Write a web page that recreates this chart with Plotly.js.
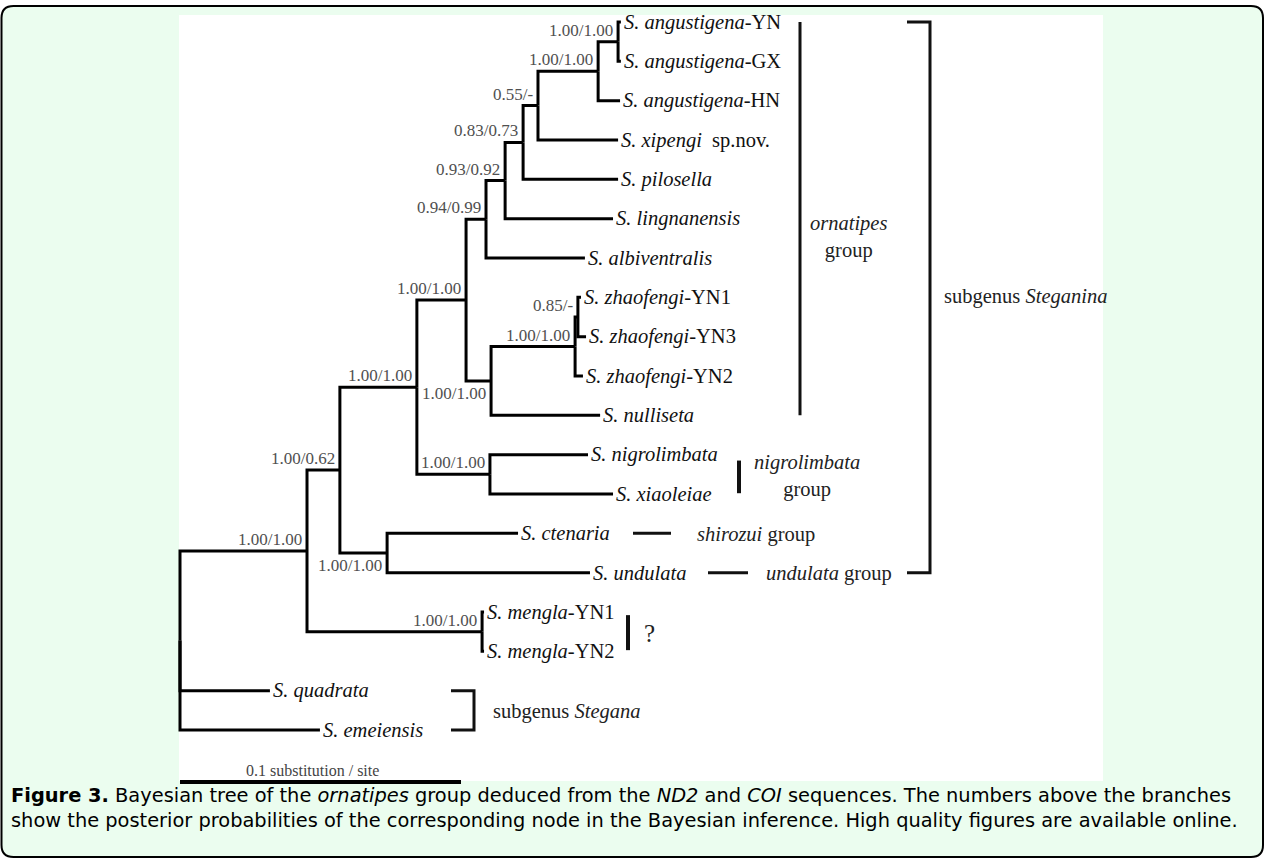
<!DOCTYPE html>
<html>
<head>
<meta charset="utf-8">
<script src="https://cdn.plot.ly/plotly-3.0.1.min.js"></script>
<style>
  html, body { margin: 0; padding: 0; background: #ffffff; }
  #chart { width: 1265px; height: 860px; }
</style>
</head>
<body>
<div id="chart"></div>
<script>
// ---------------- DATA ----------------
// Terminal taxa (top to bottom)
const leafLabels = [
  '<i>S. angustigena</i>-YN', '<i>S. angustigena</i>-GX', '<i>S. angustigena</i>-HN',
  '<i>S. xipengi</i>  sp.nov.', '<i>S. pilosella</i>', '<i>S. lingnanensis</i>',
  '<i>S. albiventralis</i>', '<i>S. zhaofengi</i>-YN1', '<i>S. zhaofengi</i>-YN3',
  '<i>S. zhaofengi</i>-YN2', '<i>S. nulliseta</i>', '<i>S. nigrolimbata</i>',
  '<i>S. xiaoleiae</i>', '<i>S. ctenaria</i>', '<i>S. undulata</i>',
  '<i>S. mengla</i>-YN1', '<i>S. mengla</i>-YN2', '<i>S. quadrata</i>', '<i>S. emeiensis</i>'
];
// distance of each tip from the root (substitutions / site)
const leafDepth = [0.1569, 0.1569, 0.1566, 0.1559, 0.1559, 0.1541, 0.1441, 0.1427, 0.1445,
                   0.1434, 0.1495, 0.1452, 0.1541, 0.1203, 0.1459, 0.1082, 0.1082, 0.0320, 0.0498];
const leafParent = ['A','A','B','C','D','E','F','K','K','J','I','L','L','N','N','P','P','R','R'];

// Internal nodes
const nodeIds     = ['R','O','M','H','G','F','E','D','C','B','A','I','J','K','L','N','P'];
const nodeDepth   = [0, 0.0452, 0.0569, 0.0843, 0.1018, 0.1089, 0.1157, 0.1221, 0.1274,
                     0.1488, 0.1559, 0.1107, 0.1406, 0.1416, 0.1103, 0.0737, 0.1075];
const nodeParent  = [null,'R','O','M','H','G','F','E','D','C','B','G','I','J','H','M','O'];
const nodeSupport = ['', '1.00/1.00', '1.00/0.62', '1.00/1.00', '1.00/1.00', '0.94/0.99',
                     '0.93/0.92', '0.83/0.73', '0.55/-', '1.00/1.00', '1.00/1.00', '1.00/1.00',
                     '1.00/1.00', '0.85/-', '1.00/1.00', '1.00/1.00', '1.00/1.00'];
const supportBelow = ['I', 'N'];

// Scale bar
const scaleBarLength = 0.1;
const scaleBarLabel = '0.1 substitution / site';

// Group annotations
const ornatipesLabel = '<i>ornatipes</i><br>group';
const steganinaLabel = 'subgenus <i>Steganina</i>';
const nigrolimbataLabel = '<i>nigrolimbata</i><br>group';
const shirozuiLabel = '<i>shirozui</i> group';
const undulataLabel = '<i>undulata</i> group';
const unknownLabel = '?';
const steganaLabel = 'subgenus <i>Stegana</i>';

const captionLines = [
  '<b>Figure 3.</b> Bayesian tree of the <i>ornatipes</i> group deduced from the <i>ND2</i> and <i>COI</i> sequences. The numbers above the branches',
  'show the posterior probabilities of the corresponding node in the Bayesian inference. High quality figures are available online.'
];

// ---------------- LAYOUT HELPERS ----------------
const W = 1265, H = 860;
const X0 = 180, PXU = 2810;       // root pixel x, pixels per substitution unit
const Y0 = 22, PYU = 39.333;      // first-leaf pixel y, pixels per leaf
const X = px => (px - X0) / PXU;  // pixel -> x data
const Y = py => (py - Y0) / PYU;  // pixel -> y data
const PX = px => px / W, PY = py => 1 - py / H;

// ---------------- TREE GEOMETRY ----------------
const pos = {};
leafLabels.forEach((l, i) => { pos['t' + i] = {x: leafDepth[i], y: i, parent: leafParent[i]}; });
nodeIds.forEach((id, i) => { pos[id] = {x: nodeDepth[i], y: null, parent: nodeParent[i]}; });
const children = {};
Object.keys(pos).forEach(k => { const p = pos[k].parent; if (p) (children[p] = children[p] || []).push(k); });
function yOf(k) {
  if (pos[k].y !== null) return pos[k].y;
  const ys = children[k].map(yOf);
  pos[k].y = (Math.min(...ys) + Math.max(...ys)) / 2;
  return pos[k].y;
}
nodeIds.forEach(yOf);

const bx = [], by = [];
Object.keys(pos).forEach(k => {
  const p = pos[k].parent;
  if (!p) return;
  bx.push(pos[p].x, pos[p].x, pos[k].x, null);
  by.push(pos[p].y, pos[k].y, pos[k].y, null);
});

const traces = [
  {type: 'scatter', mode: 'lines', x: bx, y: by, hoverinfo: 'skip',
   line: {color: '#000', width: 3}},
  {type: 'scatter', mode: 'lines', x: [0, scaleBarLength], y: [Y(782), Y(782)], hoverinfo: 'skip',
   line: {color: '#000', width: 4}},
  // group bars
  {type: 'scatter', mode: 'lines', hoverinfo: 'skip', line: {color: '#111', width: 3},
   x: [X(800), X(800), null, X(907), X(930), X(930), X(907), null,
       X(633), X(671), null, X(708), X(748), null, X(451), X(474), X(474), X(451)],
   y: [0, 10, null, 0, 0, 14, 14, null, 13, 13, null, 14, 14, null, 17, 17, 18, 18]},
  {type: 'scatter', mode: 'lines', hoverinfo: 'skip', line: {color: '#111', width: 4},
   x: [X(739), X(739), null, X(628), X(628)],
   y: [11.15, 11.98, null, 15.08, 15.97]}
];

const serif = 'Liberation Serif, Times New Roman, serif';
const ann = [];
leafLabels.forEach((l, i) => {
  ann.push({x: leafDepth[i], y: i, xref: 'x', yref: 'y', text: l, showarrow: false,
    xanchor: 'left', yanchor: 'middle', xshift: 2, borderpad: 0,
    font: {family: serif, size: 20.5, color: '#111'}});
});
nodeIds.forEach((id, i) => {
  if (!nodeSupport[i]) return;
  const below = supportBelow.includes(id);
  ann.push({x: nodeDepth[i], y: pos[id].y, xref: 'x', yref: 'y', text: nodeSupport[i],
    showarrow: false, xanchor: 'right', yanchor: below ? 'top' : 'bottom',
    xshift: -4, yshift: below ? -2 : 1, borderpad: 0,
    font: {family: serif, size: 17, color: '#505050'}});
});
ann.push({x: scaleBarLength / 2, y: Y(770), xref: 'x', yref: 'y', text: scaleBarLabel, showarrow: false,
  xanchor: 'center', yanchor: 'middle', xshift: -8, font: {family: serif, size: 16, color: '#444'}});
const grp = (x, y, t, anchor, size) => ann.push({x: X(x), y: Y(y), xref: 'x', yref: 'y', text: t,
  showarrow: false, xanchor: anchor, yanchor: 'middle', align: 'center',
  font: {family: serif, size: size || 20.5, color: '#222'}});
grp(848, 237, ornatipesLabel, 'center');
grp(942, 296, steganinaLabel, 'left');
grp(807, 476, nigrolimbataLabel, 'center');
grp(695, 534, shirozuiLabel, 'left');
grp(764, 573, undulataLabel, 'left');
grp(642, 633, unknownLabel, 'left', 25);
grp(491, 711, steganaLabel, 'left');

ann.push({x: PX(9), y: PY(808), xref: 'paper', yref: 'paper', text: captionLines.join('<br>'),
  showarrow: false, xanchor: 'left', yanchor: 'middle', align: 'left',
  font: {family: 'DejaVu Sans, sans-serif', size: 19.4, color: '#000'}});

// rounded frame path
const r = 12, L = 1.5, R = 1263, T = 6, B = 857;
const pt = (x, y) => PX(x) + ',' + PY(y);
const framePath = 'M' + pt(L, T + r) + ' Q' + pt(L, T) + ' ' + pt(L + r, T) + ' L' + pt(R - r, T) +
  ' Q' + pt(R, T) + ' ' + pt(R, T + r) + ' L' + pt(R, B - r) + ' Q' + pt(R, B) + ' ' + pt(R - r, B) +
  ' L' + pt(L + r, B) + ' Q' + pt(L, B) + ' ' + pt(L, B - r) + ' Z';

const layout = {
  width: W, height: H, margin: {l: 0, r: 0, t: 0, b: 0, pad: 0},
  paper_bgcolor: '#ffffff', plot_bgcolor: 'rgba(0,0,0,0)', showlegend: false,
  xaxis: {range: [X(0), X(W)], visible: false, fixedrange: true},
  yaxis: {range: [Y(H), Y(0)], visible: false, fixedrange: true},
  shapes: [
    {type: 'path', xref: 'paper', yref: 'paper', path: framePath, layer: 'below',
     fillcolor: '#ebfdef', line: {color: '#000', width: 2}},
    {type: 'rect', xref: 'paper', yref: 'paper', x0: PX(179), x1: PX(1103), y0: PY(781), y1: PY(15),
     layer: 'below', fillcolor: '#ffffff', line: {width: 0}}
  ],
  annotations: ann
};

Plotly.newPlot('chart', traces, layout, {staticPlot: true, displayModeBar: false});
</script>
</body>
</html>
